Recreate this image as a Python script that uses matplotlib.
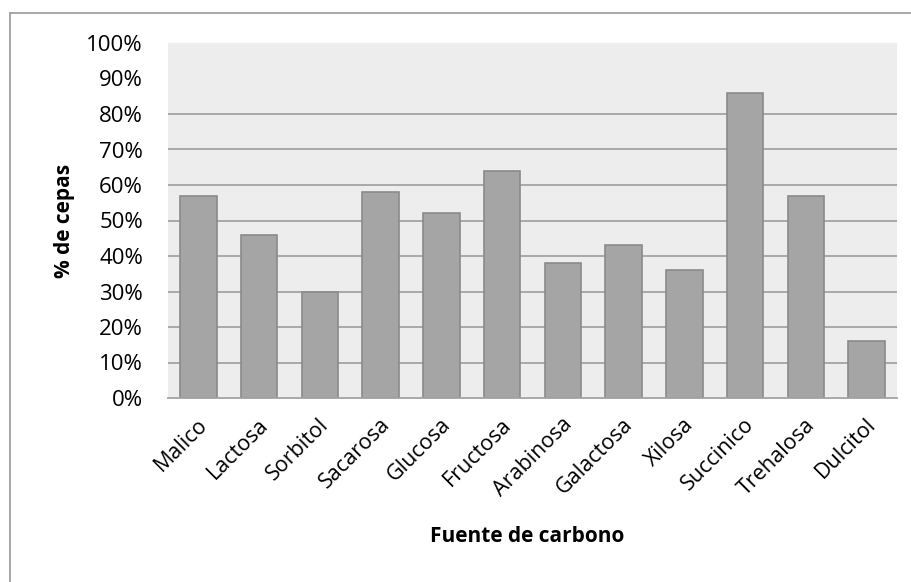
import matplotlib.pyplot as plt
import numpy as np
from matplotlib.lines import Line2D
from matplotlib.ticker import FuncFormatter
from matplotlib.transforms import ScaledTranslation

plt.rcParams['font.family'] = ['Open Sans', 'DejaVu Sans']

# fuentes de carbono y porcentaje de cepas que las utilizan
fuentes = ['Malico', 'Lactosa', 'Sorbitol', 'Sacarosa', 'Glucosa', 'Fructosa',
           'Arabinosa', 'Galactosa', 'Xilosa', 'Succinico', 'Trehalosa', 'Dulcitol']
porcentaje = [57, 46, 30, 58, 52, 64, 38, 43, 36, 86, 57, 16]
yticks = [0, 10, 20, 30, 40, 50, 60, 70, 80, 90, 100]
grid_levels = [10, 20, 30, 40, 50, 60, 70, 80]

W, H = 912, 582
fig = plt.figure(figsize=(W / 100, H / 100), dpi=100)
ax = fig.add_axes([168 / W, 1 - 398 / H, (897 - 168) / W, (398 - 43) / H])
ax.set_facecolor('#EDEDED')

x = np.arange(len(fuentes))
for g in grid_levels:
    ax.axhline(g, color='#A3A3A3', lw=1.3, zorder=1)
ax.bar(x, porcentaje, width=0.6, color='#A5A5A5', edgecolor='#8A8A8A',
       linewidth=1.2, zorder=2)

ax.set_xlim(-0.5, len(fuentes) - 0.5)
ax.set_ylim(0, 100)
ax.set_yticks(yticks)
ax.yaxis.set_major_formatter(FuncFormatter(lambda v, p: f'{v:.0f}%'))
ax.set_xticks(x)
ax.set_xticklabels(fuentes, rotation=45, ha='right', va='center',
                   rotation_mode='anchor')
ax.tick_params(axis='both', length=0, labelsize=16)
ax.tick_params(axis='y', pad=18)
ax.tick_params(axis='x', labelsize=15.5, pad=17)
shift = ScaledTranslation(6 / 100, 0, fig.dpi_scale_trans)
for lbl in ax.get_xticklabels():
    lbl.set_transform(lbl.get_transform() + shift)

for s in ['top', 'right', 'left']:
    ax.spines[s].set_visible(False)
ax.spines['bottom'].set_color('#A3A3A3')
ax.spines['bottom'].set_linewidth(1.3)

ax.set_ylabel('% de cepas', fontsize=15, fontweight='bold')
ax.yaxis.set_label_coords((75 - 168) / (897 - 168), 0.5)
fig.text(527 / W, 1 - 536 / H, 'Fuente de carbono', ha='center', va='center',
         fontsize=15, fontweight='bold')

# marco del gráfico (solo se ven los bordes superior e izquierdo)
fig.add_artist(Line2D([10 / W, 10 / W], [0, 1 - 13 / H], transform=fig.transFigure,
                      color='#A0A0A0', lw=1.3))
fig.add_artist(Line2D([10 / W, 1], [1 - 13 / H, 1 - 13 / H], transform=fig.transFigure,
                      color='#A0A0A0', lw=1.3))

fig.savefig('out.png', dpi=100)
